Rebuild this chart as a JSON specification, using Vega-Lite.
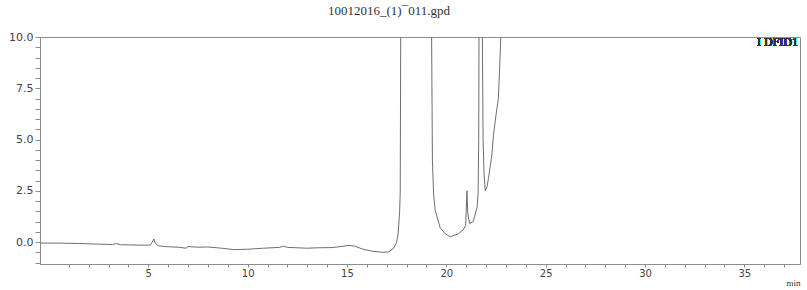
{
  "$schema": "https://vega.github.io/schema/vega-lite/v6.json",
  "width": 760,
  "height": 227,
  "autosize": {"type": "none"},
  "padding": {"left": 40, "top": 37, "right": 7, "bottom": 26},
  "background": "white",
  "config": {
    "view": {"stroke": "#8c8c8c", "strokeWidth": 1},
    "axis": {
      "domainColor": "#8c8c8c",
      "tickColor": "#8c8c8c",
      "labelColor": "#444444",
      "labelFont": "DejaVu Sans",
      "labelFontSize": 11,
      "grid": false,
      "labelOverlap": false,
      "labelFlush": false,
      "labelBound": false
    }
  },
  "title": {
    "text": "10012016_(1)¯011.gpd",
    "font": "Liberation Serif",
    "fontSize": 13,
    "fontWeight": "normal",
    "color": "#333333",
    "anchor": "middle",
    "dx": -31,
    "offset": 13
  },
  "data": {
    "values": [
      {"t": -0.45, "v": -0.05}, {"t": 0.5, "v": -0.05}, {"t": 1.5, "v": -0.07},
      {"t": 2.4, "v": -0.1}, {"t": 3.2, "v": -0.12}, {"t": 3.4, "v": -0.07},
      {"t": 3.6, "v": -0.13}, {"t": 4.5, "v": -0.15}, {"t": 5.1, "v": -0.15},
      {"t": 5.2, "v": 0.0}, {"t": 5.28, "v": 0.15}, {"t": 5.35, "v": -0.05},
      {"t": 5.5, "v": -0.18}, {"t": 5.8, "v": -0.22}, {"t": 6.5, "v": -0.25},
      {"t": 6.9, "v": -0.3}, {"t": 7.0, "v": -0.22}, {"t": 7.5, "v": -0.25},
      {"t": 8.0, "v": -0.24}, {"t": 8.7, "v": -0.3}, {"t": 9.3, "v": -0.37},
      {"t": 10.0, "v": -0.35}, {"t": 10.8, "v": -0.3}, {"t": 11.6, "v": -0.26},
      {"t": 11.8, "v": -0.2}, {"t": 12.0, "v": -0.26}, {"t": 13.0, "v": -0.3},
      {"t": 13.5, "v": -0.28}, {"t": 14.2, "v": -0.27}, {"t": 14.7, "v": -0.22},
      {"t": 15.1, "v": -0.16}, {"t": 15.4, "v": -0.2}, {"t": 15.8, "v": -0.35},
      {"t": 16.3, "v": -0.45}, {"t": 16.8, "v": -0.5}, {"t": 17.1, "v": -0.48},
      {"t": 17.35, "v": -0.3}, {"t": 17.5, "v": 0.0}, {"t": 17.58, "v": 0.45},
      {"t": 17.65, "v": 1.5}, {"t": 17.68, "v": 2.4},
      {"t": 17.72, "v": 15}, {"t": 17.8, "v": 40}, {"t": 19.1, "v": 40},
      {"t": 19.26, "v": 10}, {"t": 19.3, "v": 4}, {"t": 19.36, "v": 2.3},
      {"t": 19.44, "v": 1.55}, {"t": 19.69, "v": 0.7}, {"t": 19.95, "v": 0.4},
      {"t": 20.2, "v": 0.26}, {"t": 20.6, "v": 0.4}, {"t": 20.85, "v": 0.6},
      {"t": 20.97, "v": 0.8}, {"t": 21.0, "v": 1.5}, {"t": 21.04, "v": 2.5},
      {"t": 21.08, "v": 1.4}, {"t": 21.17, "v": 0.9}, {"t": 21.35, "v": 1.0},
      {"t": 21.55, "v": 1.7}, {"t": 21.6, "v": 2.4}, {"t": 21.63, "v": 5},
      {"t": 21.66, "v": 15}, {"t": 21.73, "v": 40}, {"t": 21.8, "v": 12},
      {"t": 21.85, "v": 5}, {"t": 21.9, "v": 3.3}, {"t": 21.96, "v": 2.5},
      {"t": 22.05, "v": 2.7}, {"t": 22.12, "v": 3.1}, {"t": 22.3, "v": 4.3},
      {"t": 22.37, "v": 5.2}, {"t": 22.5, "v": 6.2}, {"t": 22.62, "v": 7.0},
      {"t": 22.7, "v": 8.9}, {"t": 22.76, "v": 10.5}, {"t": 22.8, "v": 40},
      {"t": 22.9, "v": 40}
    ]
  },
  "layer": [
    {
      "mark": {"type": "line", "color": "#6e6e6e", "strokeWidth": 1, "clip": true, "interpolate": "linear"},
      "encoding": {
        "x": {
          "field": "t", "type": "quantitative",
          "scale": {"domain": [-0.45, 37.8], "nice": false, "zero": false},
          "axis": {
            "values": [1,2,3,4,5,6,7,8,9,10,11,12,13,14,15,16,17,18,19,20,21,22,23,24,25,26,27,28,29,30,31,32,33,34,35,36,37],
            "tickCount": 200,
            "labelExpr": "datum.value % 5 === 0 ? datum.value : ''",
            "labelFontSize": 10,
            "tickSize": 3,
            "labelPadding": 1,
            "title": "min",
            "titleFont": "Liberation Serif",
            "titleFontSize": 9,
            "titleFontWeight": "normal",
            "titleColor": "#333333",
            "titleAnchor": "end",
            "titleAlign": "right",
            "titlePadding": 0
          }
        },
        "y": {
          "field": "v", "type": "quantitative",
          "scale": {"domain": [-1.07, 10], "nice": false, "zero": false},
          "axis": {
            "values": [-1,-0.5,0,0.5,1,1.5,2,2.5,3,3.5,4,4.5,5,5.5,6,6.5,7,7.5,8,8.5,9,9.5,10],
            "tickCount": 200,
            "labelExpr": "datum.value % 2.5 === 0 ? format(datum.value, '.1f') : ''",
            "tickSize": 5,
            "labelPadding": 2,
            "title": null
          }
        }
      }
    },
    {
      "mark": {"type": "text", "text": "I DFID1", "font": "Liberation Serif", "fontSize": 12, "color": "#333333", "align": "right", "baseline": "top", "dx": -2, "dy": 0},
      "encoding": {
        "x": {"datum": 37.8, "type": "quantitative"},
        "y": {"datum": 10, "type": "quantitative"}
      }
    }
  ]
}
